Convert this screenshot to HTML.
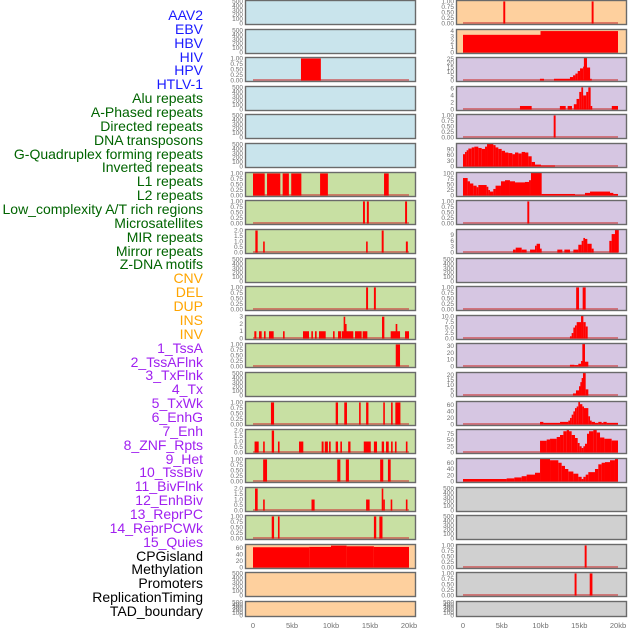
<!DOCTYPE html>
<html><head><meta charset="utf-8">
<style>
html,body{margin:0;padding:0;background:#fff;}
#wrap{position:relative;width:630px;height:630px;overflow:hidden;font-family:"Liberation Sans",sans-serif;}
.lab{position:absolute;right:427px;font-size:14px;line-height:14px;white-space:nowrap;text-align:right;}
svg{position:absolute;left:0;top:0;}
</style></head>
<body>
<div id="wrap">
<svg id="chart" width="630" height="630"></svg>
</div>
<script>
// ---- labels ----
const labelNames = ["AAV2","EBV","HBV","HIV","HPV","HTLV-1","Alu repeats","A-Phased repeats","Directed repeats","DNA transposons","G-Quadruplex forming repeats","Inverted repeats","L1 repeats","L2 repeats","Low_complexity A/T rich regions","Microsatellites","MIR repeats","Mirror repeats","Z-DNA motifs","CNV","DEL","DUP","INS","INV","1_TssA","2_TssAFlnk","3_TxFlnk","4_Tx","5_TxWk","6_EnhG","7_Enh","8_ZNF_Rpts","9_Het","10_TssBiv","11_BivFlnk","12_EnhBiv","13_ReprPC","14_ReprPCWk","15_Quies","CPGisland","Methylation","Promoters","ReplicationTiming","TAD_boundary"];
const labelColors = ["#1a1aff","#006400","#ffa500","#a020f0","#000000"];
const labelGroupSizes = [6,13,5,15,5];

// ---- tick label sets ----
const ticksEmpty = ["0","100","200","300","400","500"];
const ticks01 = ["0.00","0.25","0.50","0.75","1.00"];
const ticks02 = ["0.0","0.5","1.0","1.5","2.0"];
const ticks03 = ["0","1","2","3"];
const ticks04 = ["0","1","2","3","4"];
const ticks06 = ["0","2","4","6"];
const ticks09 = ["0","3","6","9"];
const ticks10 = ["0.0","2.5","5.0","7.5","10.0"];
const ticks20 = ["0","5","10","15","20"];
const ticks25 = ["0","5","10","15","20","25"];
const ticks30 = ["0","10","20","30"];
const ticks60 = ["0","20","40","60"];
const ticks75 = ["0","25","50","75"];
const ticks90 = ["0","30","60","90"];
const ticks100 = ["0","25","50","75","100"];
const xTickLabels = ["0","5kb","10kb","15kb","20kb"];
const xTickValues = [0,5,10,15,20];

// ---- series data: [startKb, endKb, value] ----
const segHBV = [[6.15,8.7,1]];
const segL1 = [[0,1.5,1],[1.8,3.5,1],[3.8,4.6,1],[4.9,6.2,1],[8.6,9.6,1],[16.8,17.4,1]];
const segL2 = [[14.1,14.35,1],[14.6,14.85,1],[19.5,19.75,1]];
const segLowCx = [[0.3,0.6,2],[1.3,1.5,1],[14.5,14.7,1],[16.5,16.75,2],[19.6,19.85,1]];
const segMIR = [[14.5,14.75,1],[15.5,15.75,1]];
const segMirror = [[0.17,0.43,1],[0.77,1.11,1],[1.41,1.62,1],[2.05,2.65,1],[3.85,4.0,1],[6.41,7.18,1],[7.48,7.65,1],[7.95,8.16,1],[8.46,9.32,1],[10.26,10.43,1],[10.9,11.28,1],[11.37,12.86,1],[11.7,12.0,2],[11.62,11.8,3],[13.08,13.93,1],[14.06,14.66,1],[16.54,16.84,3],[17.65,18.85,1],[18.29,18.5,2],[19.49,20.0,1]];
const segZDNA = [[18.3,18.85,1]];
const segDEL2 = [[2.3,2.7,1],[10.6,10.9,1],[11.7,12.05,1],[13.6,13.75,1],[14.5,14.8,1],[16.7,16.9,1],[17.7,17.9,1],[18.25,18.9,1]];
const segL15 = [[0.2,0.73,1],[1.3,1.5,1],[2.4,2.7,2],[3.2,3.4,1],[5.9,6.45,1],[8.8,9.05,1],[9.2,9.6,1],[9.75,9.96,1],[10.6,10.9,1],[11.2,11.4,1],[12.2,12.5,1],[14.2,15.1,1],[15.5,15.9,1],[16.5,16.8,1],[17.05,17.4,1],[17.7,17.9,1],[18.2,18.4,1],[19.6,19.8,1]];
const segL16 = [[1.3,1.8,1],[10.8,11.2,1],[11.9,12.3,1],[16.3,16.7,1],[17.3,17.65,1]];
const segL17 = [[0.26,0.6,2],[1.3,1.5,1],[7.5,7.9,1],[14.5,14.95,1],[16.5,16.7,2],[16.7,16.85,1],[17.65,17.8,1],[19.6,19.8,1]];
const segL18 = [[2.4,2.7,1],[3.2,3.4,1],[15.5,15.8,1],[16.2,16.6,1]];
const segCPG = [[0,7.2,63],[7.2,10,64],[10,12,68],[12,15.5,66],[15.5,20,64]];

const segR0 = [[5.2,5.45,1],[16.6,16.85,1]];
const segR1 = [[0,10,3.3],[10,20,4]];
const segR2 = [[9.93,10.45,2],[11.74,13.8,2],[13.8,14.2,4],[14.2,14.5,6],[14.5,14.8,8],[14.8,15.1,11],[15.1,15.5,14],[15.5,15.6,16],[15.6,16.0,26],[16.0,16.4,15],[16.4,16.55,2]];
const segR3 = [[7.35,8.86,1],[12.5,13.25,1],[13.5,14.06,1],[14.3,14.65,1.5],[14.65,15.0,3],[15.0,15.27,5],[15.27,15.5,6.3],[15.5,15.9,4],[15.9,16.17,5],[16.17,16.47,6.3],[16.47,16.64,1],[19.2,20.0,1]];
const segR4 = [[11.7,11.95,1]];
const segR5 = [[0,0.26,65],[0.26,0.47,77],[0.47,0.69,86],[0.69,1.12,95],[1.12,1.46,101],[1.46,1.98,105],[1.98,2.41,98],[2.41,2.84,93],[2.84,3.1,105],[3.1,3.91,119],[3.91,4.2,113],[4.2,4.56,101],[4.56,4.99,93],[4.99,5.42,83],[5.42,5.85,74],[5.85,6.37,71],[6.37,6.71,65],[6.71,7.14,74],[7.14,7.57,69],[7.57,8.0,77],[8.0,8.43,74],[8.43,8.86,54],[8.86,9.29,24],[9.29,10.06,10],[10.06,11.87,5]];
const segR6 = [[0,0.6,80],[0.6,0.9,65],[0.9,1.33,55],[1.33,1.76,45],[1.76,1.98,38],[1.98,3.05,48],[3.05,3.27,40],[3.27,3.48,25],[3.48,3.91,18],[3.91,4.2,30],[4.2,4.9,45],[4.9,5.42,65],[5.42,6.06,70],[6.06,6.71,65],[6.71,8.0,60],[8.0,8.52,62],[8.52,8.77,70],[8.77,10.15,103],[10.15,14.45,7],[14.45,15.74,3],[15.74,16.39,12],[16.39,18.97,18],[18.97,19.4,12],[19.4,20,7]];
const segR7 = [[8.3,8.55,1]];
const segR8 = [[6.45,6.8,1.5],[6.8,7.57,2.5],[7.57,8.21,1.5],[8.65,9.29,1.5],[9.29,9.5,3.5],[9.5,9.94,4.5],[9.94,10.15,2],[12.17,12.82,1.5],[13.08,13.81,1.5],[14.24,14.88,1.5],[14.88,15.31,4],[15.31,15.53,6],[15.53,15.74,7.5],[15.74,16.04,7],[16.04,16.6,4.5],[16.6,16.86,2],[18.88,19.18,6],[19.18,19.61,9.5],[19.61,20.1,11.6]];
const segR10 = [[14.6,14.97,1],[15.44,15.83,1]];
const segR11 = [[13.8,14.02,1],[14.02,14.24,2.5],[14.24,14.45,5],[14.45,14.67,6],[14.67,15.23,7.5],[15.23,15.53,10.3],[15.53,15.83,7.5],[15.83,16.09,5.5]];
const segR12 = [[13.8,14.37,2.5],[14.37,14.88,2],[14.88,15.23,4],[15.23,15.4,8],[15.4,15.74,32.8],[15.74,16.17,7]];
const segR13 = [[14.19,14.58,2],[14.58,14.97,5],[14.97,15.14,9],[15.14,15.31,13],[15.31,15.48,17],[15.48,15.83,21.9],[15.83,16.17,6]];
const segR14 = [[9.94,10.37,8],[10.37,12.52,5],[12.52,13.59,8],[13.59,13.81,12],[13.81,14.02,20],[14.02,14.24,30],[14.24,14.45,40],[14.45,14.67,50],[14.67,14.88,55],[14.88,15.1,68.6],[15.1,15.4,62],[15.4,15.61,55],[15.61,16.17,50],[16.17,16.39,25],[16.39,16.6,12],[16.6,17.03,8],[17.03,17.46,5],[17.46,17.89,8],[17.89,18.11,5],[18.11,18.54,8],[18.54,20,5]];
const segR15 = [[9.94,10.8,47],[10.8,11.23,52],[11.23,12.09,55],[12.09,12.52,62],[12.52,12.95,70],[12.95,13.38,85],[13.38,13.68,90],[13.68,14.02,85],[14.02,14.45,70],[14.45,14.8,58],[14.8,15.05,38],[15.05,15.31,25],[15.31,15.53,18],[15.53,15.74,25],[15.74,16.0,35],[16.0,16.26,75],[16.26,16.82,85],[16.82,17.25,90],[17.25,17.68,80],[17.68,18.24,60],[18.24,19.18,55],[19.18,20,48]];
const segR16 = [[0,5.63,8],[5.63,6.62,10],[6.62,7.57,13],[7.57,8.21,17],[8.21,9.29,22],[9.29,9.94,28],[9.94,11.23,72],[11.23,12.3,68],[12.3,12.73,60],[12.73,13.16,50],[13.16,13.59,40],[13.59,14.24,32],[14.24,14.88,25],[14.88,15.31,15],[15.31,15.53,8],[15.53,15.83,15],[15.83,16.17,22],[16.17,17.03,30],[17.03,17.46,40],[17.46,17.89,55],[17.89,18.32,60],[18.32,18.97,62],[18.97,19.61,68],[19.61,20,72]];
const segR19 = [[15.7,15.95,1]];
const segR20 = [[14.4,14.65,1],[16.35,16.7,1]];

// ---- layout ----
const BG = {blue:"#c9e4ec",green:"#c8e0a3",orange:"#fed09e",purple:"#d6c6e2",gray:"#d0d0d0"};
const cols = [{px0:245,px1:416,x0:253,x20:409},{px0:456,px1:627,x0:463,x20:618}];
// [col,row,bg,segments,ymax,ticks]
const panels = [
[0,0,"blue",null,510,ticksEmpty],[0,1,"blue",null,510,ticksEmpty],[0,2,"blue",segHBV,1.02,ticks01],
[0,3,"blue",null,510,ticksEmpty],[0,4,"blue",null,510,ticksEmpty],[0,5,"blue",null,510,ticksEmpty],
[0,6,"green",segL1,1.02,ticks01],[0,7,"green",segL2,1.02,ticks01],[0,8,"green",segLowCx,2.05,ticks02],
[0,9,"green",null,510,ticksEmpty],[0,10,"green",segMIR,1.02,ticks01],[0,11,"green",segMirror,3.1,ticks03],
[0,12,"green",segZDNA,1.02,ticks01],[0,13,"green",null,510,ticksEmpty],[0,14,"green",segDEL2,1.02,ticks01],
[0,15,"green",segL15,2.05,ticks02],[0,16,"green",segL16,1.02,ticks01],[0,17,"green",segL17,2.05,ticks02],
[0,18,"green",segL18,1.02,ticks01],[0,19,"orange",segCPG,70,ticks60],[0,20,"orange",null,510,ticksEmpty],
[0,21,"orange",null,510,ticksEmpty],
[1,0,"orange",segR0,1.02,ticks01],[1,1,"orange",segR1,4.2,ticks04],[1,2,"purple",segR2,26,ticks25],
[1,3,"purple",segR3,6.4,ticks06],[1,4,"purple",segR4,1.02,ticks01],[1,5,"purple",segR5,119,ticks90],
[1,6,"purple",segR6,103,ticks100],[1,7,"purple",segR7,1.02,ticks01],[1,8,"purple",segR8,11.6,ticks09],
[1,9,"purple",null,510,ticksEmpty],[1,10,"purple",segR10,1.02,ticks01],[1,11,"purple",segR11,10.3,ticks10],
[1,12,"purple",segR12,32.8,ticks30],[1,13,"purple",segR13,21.9,ticks20],[1,14,"purple",segR14,68.6,ticks60],
[1,15,"purple",segR15,90,ticks75],[1,16,"purple",segR16,72,ticks60],[1,17,"gray",null,510,ticksEmpty],
[1,18,"gray",null,510,ticksEmpty],[1,19,"gray",segR19,1.02,ticks01],[1,20,"gray",segR20,1.02,ticks01],
[1,21,"gray",null,510,ticksEmpty]
];

const NS="http://www.w3.org/2000/svg";
const svg=document.getElementById("chart");
function mk(tag,attrs,parent){const e=document.createElementNS(NS,tag);for(const k in attrs)e.setAttribute(k,attrs[k]);(parent||svg).appendChild(e);return e;}
function xScale(c,kb){return c.x0+kb/20*(c.x20-c.x0);}

// labels
const wrap=document.getElementById("wrap");
let li=0;
labelGroupSizes.forEach((n,g)=>{for(let k=0;k<n;k++){
  const d=document.createElement("div");
  d.className="lab";
  d.style.top=(15+li*13.86-7)+"px";
  d.style.color=labelColors[g];
  d.textContent=labelNames[li];
  
  
  wrap.appendChild(d);li++;}});

panels.forEach(p=>{
  const c=cols[p[0]],row=p[1];
  const top=Math.round(row*28.62),h=row===21?16:25;
  const g=mk("g",{});
  
  
  const bg=mk("rect",{x:c.px0,y:top,width:c.px1-c.px0,height:h,fill:BG[p[2]]},g);
  
  
  const yb=top+h-1.5,yr=h-2.5;
  const yS=v=>yb-v/p[4]*yr;
  // ticks
  p[5].forEach(t=>{
    const tx=mk("text",{x:c.px0-2,y:yS(parseFloat(t))+2,"font-size":"6.5","text-anchor":"end",fill:"#707070","font-family":"Liberation Sans, sans-serif"},g);
    tx.textContent=t;
    
    
  });
  if(p[3]){
    const bl=mk("line",{x1:xScale(c,0),x2:xScale(c,20),y1:yb-0.5,y2:yb-0.5,stroke:"rgba(205,60,60,0.6)","stroke-width":2},g);
    
    
    p[3].forEach(s=>{
      const x1=xScale(c,s[0]),x2=xScale(c,s[1]);
      const r=mk("rect",{x:x1,y:yS(s[2]),width:Math.max(1.6,x2-x1),height:yb-yS(s[2]),fill:"#ff0000"},g);
      
      
    });
  }
  const br=mk("rect",{x:c.px0+0.5,y:top+0.5,width:c.px1-c.px0-1,height:h-1,fill:"none",stroke:"#6a6a6a","stroke-width":1.4},g);
  
  
});

// x axes
cols.forEach((c,i)=>{
  xTickValues.forEach((v,j)=>{
    const t=mk("text",{x:xScale(c,v),y:628,"font-size":"7.5","text-anchor":"middle",fill:"#707070","font-family":"Liberation Sans, sans-serif"});
    t.textContent=xTickLabels[j];
    
    
  });
});
</script>
</body></html>
